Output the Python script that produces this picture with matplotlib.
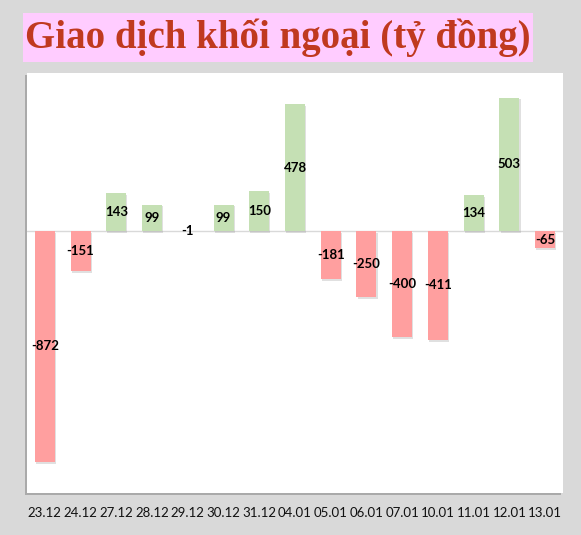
import matplotlib
matplotlib.use("Agg")
import matplotlib.pyplot as plt
import matplotlib.patheffects as pe
from matplotlib.patches import Rectangle

# foreign trading net value, billion VND
dates = ["23.12", "24.12", "27.12", "28.12", "29.12", "30.12", "31.12", "04.01",
         "05.01", "06.01", "07.01", "10.01", "11.01", "12.01", "13.01"]
values = [-872, -151, 143, 99, -1, 99, 150, 478,
          -181, -250, -400, -411, 134, 503, -65]

title = "Giao dịch khối ngoại (tỷ đồng)"

W, H = 581, 535
fig = plt.figure(figsize=(W / 100, H / 100), dpi=100)
fig.patch.set_facecolor("#d9d9d9")

# white panel position in pixels
left, right, top, bottom = 27, 563, 73, 493
ax = fig.add_axes([left / W, 1 - bottom / H, (right - left) / W, (bottom - top) / H])
ax.set_facecolor("white")

# panel shadow
fig.patches.append(Rectangle(((left - 2) / W, 1 - (bottom + 2) / H), (right - left) / W, (bottom - top) / H,
                             transform=fig.transFigure, facecolor="#8c8c8c", edgecolor="none",
                             alpha=0.6, zorder=0))
ax.set_zorder(1)

# title box
fig.patches.append(Rectangle((23 / W, 1 - 62 / H), (533 - 23) / W, (62 - 13) / H,
                             transform=fig.transFigure, facecolor="#ffccff", edgecolor="none", zorder=1))
fig.text(278 / W, 1 - 38 / H, title, ha="center", va="center", fontsize=28,
         fontweight="bold", family="Liberation Serif", color="#c0391f", zorder=2)

x = range(len(dates))
colors = ["#c5e0b4" if v >= 0 else "#ff9f9f" for v in values]
bars = ax.bar(x, values, width=0.56, color=colors, zorder=3)
for b in bars:
    b.set_path_effects([pe.SimplePatchShadow(offset=(0.8, -1.2), shadow_rgbFace="#999999", alpha=0.3),
                        pe.Normal()])

ax.axhline(0, color="#d9d9d9", lw=1, zorder=2)

for i, v in enumerate(values):
    ax.text(i, v / 2, str(v), ha="center", va="center", fontsize=9.5,
            fontweight="bold", family="Lato", color="black", zorder=4)

ax.set_xlim(-0.5, len(dates) - 0.5)
ax.set_ylim(-989, 596)
ax.set_yticks([])
ax.set_xticks(list(x))
ax.set_xticklabels(dates, fontsize=9.5, family="Lato", color="#111111")
ax.tick_params(axis="x", length=0, pad=10)
for s in ax.spines.values():
    s.set_visible(False)

fig.savefig("out.png", dpi=100, facecolor=fig.get_facecolor())
